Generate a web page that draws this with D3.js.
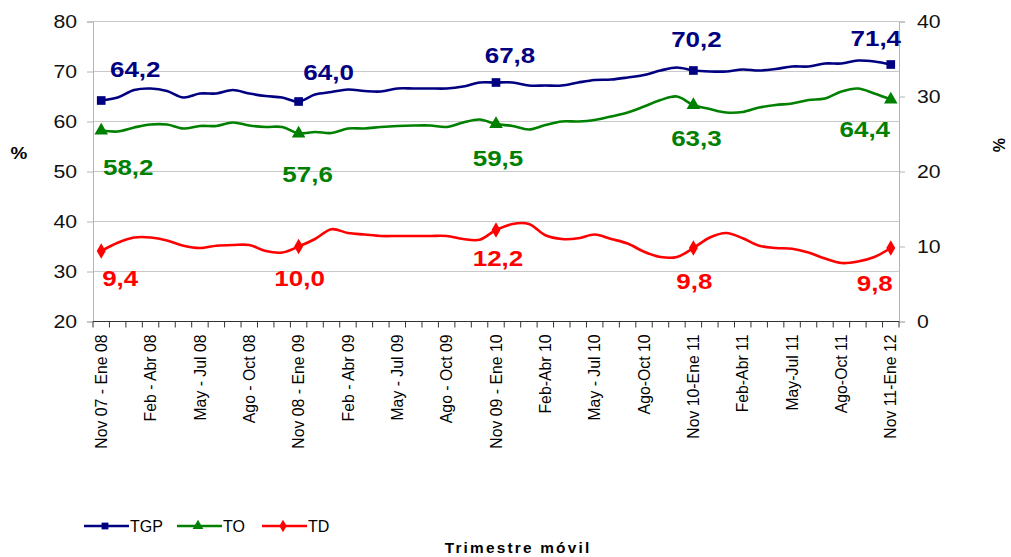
<!DOCTYPE html>
<html><head><meta charset="utf-8">
<script src="https://cdn.jsdelivr.net/npm/d3@7"></script>
<style>
html,body{margin:0;padding:0;background:#fff;}
svg{display:block;font-family:"Liberation Sans",Arial,sans-serif;}
</style></head>
<body>
<svg id="c" width="1011" height="557"></svg>
<script>
const categories = [
"Nov 07 - Ene 08","Dic 07 - Feb 08","Ene - Mar 08","Feb - Abr 08","Mar - May 08","Abr - Jun 08","May - Jul 08","Jun - Ago 08","Jul - Sep 08","Ago - Oct 08","Sep - Nov 08","Oct - Dic 08",
"Nov 08 - Ene 09","Dic 08 - Feb 09","Ene - Mar 09","Feb - Abr 09","Mar - May 09","Abr - Jun 09","May - Jul 09","Jun - Ago 09","Jul - Sep 09","Ago - Oct 09","Sep - Nov 09","Oct - Dic 09",
"Nov 09 - Ene 10","Dic 09 - Feb 10","Ene-Mar 10","Feb-Abr 10","Mar-May 10","Abr-Jun 10","May - Jul 10","Jun-Ago 10","Jul-Sep 10","Ago-Oct 10","Sep-Nov 10","Oct-Dic 10",
"Nov 10-Ene 11","Dic 10-Feb 11","Ene-Mar 11","Feb-Abr 11","Mar-May 11","Abr-Jun 11","May-Jul 11","Jun-Ago 11","Jul-Sep 11","Ago-Oct 11","Sep-Nov 11","Oct-Dic 11",
"Nov 11-Ene 12"];
const tgp = [64.2,64.8,66.3,66.6,66.1,64.8,65.6,65.6,66.3,65.6,65.1,64.8,
64.0,65.4,65.9,66.4,66.1,66.0,66.6,66.6,66.6,66.6,67.0,67.8,
67.8,67.8,67.2,67.2,67.2,67.8,68.3,68.4,68.8,69.3,70.2,70.8,
70.2,70.0,70.0,70.4,70.2,70.5,71.0,71.0,71.6,71.6,72.2,72.0,
71.4];
const to = [58.2,58.0,58.8,59.4,59.4,58.6,59.1,59.1,59.8,59.2,58.9,58.9,
57.6,57.9,57.7,58.6,58.6,58.9,59.1,59.2,59.2,58.9,59.8,60.4,
59.5,59.1,58.4,59.3,60.0,60.0,60.3,61.0,61.8,63.0,64.3,65.0,
63.3,62.5,61.8,61.9,62.8,63.3,63.6,64.3,64.6,66.0,66.6,65.6,
64.4];
const td = [9.4,10.5,11.2,11.2,10.8,10.1,9.8,10.1,10.2,10.2,9.4,9.2,
10.0,11.0,12.3,11.8,11.6,11.4,11.4,11.4,11.4,11.4,11.0,10.9,
12.2,13.0,13.0,11.5,11.0,11.1,11.6,11.0,10.4,9.3,8.6,8.6,
9.8,11.2,11.8,11.1,10.1,9.8,9.7,9.2,8.4,7.8,8.0,8.6,
9.8];
const leftTicks = [20,30,40,50,60,70,80];
const rightTicks = [0,10,20,30,40];
const markerIdx = [0,12,24,36,48];
const seriesNames = ["TGP","TO","TD"];
const colors = ["#000080","#008000","#ff0000"];
// label offsets (px) relative to marked points
const labelOff = [
  [[34,-23.5],[30,-21.5],[14,-19.5],[3,-23.5],[-15,-18.5]],
  [[27,44.5],[9,48.5],[2,42],[3,41],[-26,37.5]],
  [[19,35],[1,39.5],[2,36],[1,41],[-16,43]]
];
const SX = 1.18; // horizontal text stretch of the original

const svg = d3.select("#c");
const L=93, R=899, T=21.5, B=321.5;
const x = d3.scaleBand().domain(categories).range([L,R]).paddingInner(0).paddingOuter(0);
const yL = d3.scaleLinear().domain([20,80]).range([B,T]);
const yR = d3.scaleLinear().domain([0,40]).range([B,T]);
const cx = c => x(c) + x.bandwidth()/2;

// gridlines
svg.append("g").selectAll("line").data(leftTicks.filter(d=>d>20)).join("line")
  .attr("x1",L).attr("x2",R).attr("y1",d=>yL(d)).attr("y2",d=>yL(d))
  .attr("stroke","#c8c8c8").attr("stroke-width",1);

// left axis
const gl = svg.append("g").attr("transform",`translate(${L},0)`)
  .call(d3.axisLeft(yL).tickValues(leftTicks).tickSize(6).tickPadding(9).tickFormat(d3.format("d")));
gl.select(".domain").attr("stroke","#b4b4b4");
gl.selectAll(".tick line").attr("stroke","#b4b4b4");
gl.selectAll(".tick text").attr("font-size",18).attr("fill","#111")
  .attr("font-family","Liberation Sans, Arial, sans-serif")
  .attr("transform",`scale(${SX},1)`).attr("x", -16/SX);

// right axis
const gr = svg.append("g").attr("transform",`translate(${R},0)`)
  .call(d3.axisRight(yR).tickValues(rightTicks).tickSize(6).tickPadding(12).tickFormat(d3.format("d")));
gr.select(".domain").attr("stroke","#b4b4b4");
gr.selectAll(".tick line").attr("stroke","#b4b4b4");
gr.selectAll(".tick text").attr("font-size",18).attr("fill","#111")
  .attr("font-family","Liberation Sans, Arial, sans-serif")
  .attr("transform",`scale(${SX},1)`).attr("x",18/SX);

// x axis
const gx = svg.append("g");
gx.append("line").attr("x1",L).attr("x2",R).attr("y1",B).attr("y2",B).attr("stroke","#333").attr("stroke-width",1);
const bounds = categories.map(c=>x(c)).concat([R]);
gx.selectAll("line.tk").data(bounds).join("line").attr("class","tk")
  .attr("x1",d=>d).attr("x2",d=>d).attr("y1",B).attr("y2",B+6).attr("stroke","#333");
gx.selectAll("text").data(categories.filter((c,i)=>i%3===0)).join("text")
  .attr("transform",c=>`translate(${cx(c)},${B+13}) rotate(-90)`)
  .attr("text-anchor","end").attr("dy","0.36em")
  .attr("font-size",15.8).attr("fill","#000").text(c=>c);

// lines
const series = [tgp,to,td];
const scales = [yL,yL,yR];
series.forEach((vals,si)=>{
  const line = d3.line().x((d,i)=>cx(categories[i])).y(d=>scales[si](d)).curve(d3.curveCatmullRom.alpha(0.5));
  svg.append("path").datum(vals).attr("d",line).attr("fill","none")
    .attr("stroke",colors[si]).attr("stroke-width",2.6).attr("stroke-linejoin","round");
});

// markers
const symTypes=[d3.symbolSquare,d3.symbolTriangle,d3.symbolDiamond];
const symSizes=[75,80,70];
series.forEach((vals,si)=>{
  svg.append("g").selectAll("path").data(markerIdx).join("path")
    .attr("d",d3.symbol().type(symTypes[si]).size(symSizes[si]))
    .attr("transform",i=>`translate(${cx(categories[i])},${scales[si](vals[i])})`)
    .attr("fill",colors[si]);
});

// value labels
const fmt = v => d3.format(".1f")(v).replace(".",",");
series.forEach((vals,si)=>{
  svg.append("g").selectAll("text").data(markerIdx).join("text")
    .attr("transform",(i,k)=>`translate(${cx(categories[i])+labelOff[si][k][0]},${scales[si](vals[i])+labelOff[si][k][1]}) scale(${SX},1)`)
    .attr("text-anchor","middle").attr("font-size",22).attr("font-weight","bold")
    .attr("fill",colors[si]).text(i=>fmt(vals[i]));
});

// axis titles
svg.append("text").attr("transform",`translate(19,159) scale(${SX},1)`).attr("text-anchor","middle")
  .attr("font-size",16).attr("font-weight","bold").text("%");
svg.append("text").attr("transform",`translate(993,145) rotate(90)`).attr("text-anchor","middle")
  .attr("font-size",16).attr("font-weight","bold").text("%");
svg.append("text").attr("transform",`translate(518,553) scale(1.1,1)`).attr("text-anchor","middle")
  .attr("font-size",14).attr("font-weight","bold").attr("letter-spacing",2).text("Trimestre móvil");

// legend
const legX=[84,177,262];
const lg = svg.append("g");
seriesNames.forEach((n,si)=>{
  const g = lg.append("g").attr("transform",`translate(${legX[si]},526)`);
  g.append("line").attr("x1",0).attr("x2",45).attr("stroke",colors[si]).attr("stroke-width",2.6);
  g.append("path").attr("d",d3.symbol().type(symTypes[si]).size(si===1?50:46)).attr("transform","translate(21,0)").attr("fill",colors[si]);
  g.append("text").attr("transform",`translate(46,6)`).attr("font-size",16).attr("fill","#000").text(n);
});
</script>
</body></html>
